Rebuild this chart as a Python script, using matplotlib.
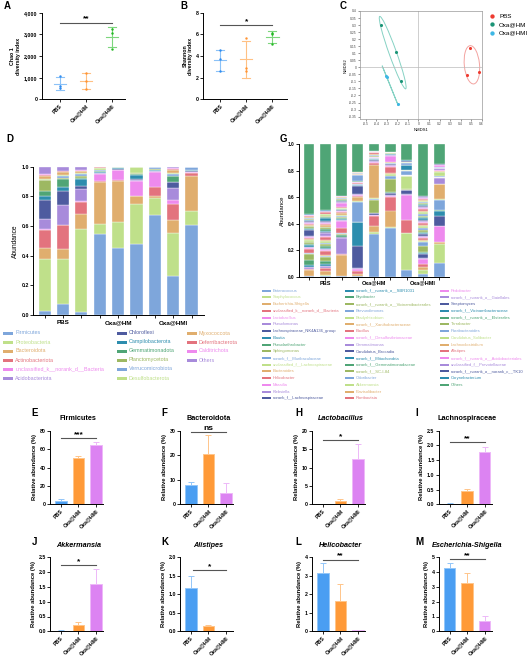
import matplotlib.pyplot as plt
import numpy as np
from matplotlib.patches import Ellipse, Rectangle

plt.rcParams['font.family'] = ['Liberation Sans', 'DejaVu Sans']
plt.rcParams['axes.linewidth'] = 0.7

# ---------------- data ----------------
groups = ['PBS', 'Oxa@HM', 'Oxa@HMI']

# A / B alpha diversity (three mice per group)
chao1_pbs = [1060, 615, 510]
chao1_hm = [1200, 830, 480]
chao1_hmi = [3230, 3060, 2340]
shannon_pbs = [4.52, 3.75, 2.58]
shannon_hm = [5.66, 2.86, 2.60]
shannon_hmi = [6.10, 6.07, 5.08]

# C NMDS scores
nmds_pbs_x = [0.487, 0.572, 0.462]
nmds_pbs_y = [0.140, -0.031, -0.055]
nmds_hm_x = [-0.356, -0.214, -0.164]
nmds_hm_y = [0.302, 0.111, -0.100]
nmds_hmi_x = [-0.305, -0.300, -0.198]
nmds_hmi_y = [-0.064, -0.070, -0.260]

# D phylum composition, one list per sample
phyla = ['Firmicutes', 'Proteobacteria', 'Bacteroidota', 'Actinobacteriota',
         'unclassified_k__norank_d__Bacteria', 'Acidobacteriota',
         'Chloroflexi', 'Campilobacterota', 'Gemmatimonadota', 'Planctomycetota',
         'Verrucomicrobiota', 'Desulfobacterota', 'Myxococcota', 'Deferribacterota',
         'Calditrichota', 'Others']
phylum_pbs1 = [0.030, 0.350, 0.070, 0.120, 0.008, 0.070, 0.130, 0.025, 0.035, 0.070, 0.005, 0.005, 0.020, 0.003, 0.012, 0.047]
phylum_pbs2 = [0.075, 0.305, 0.065, 0.160, 0.005, 0.135, 0.090, 0.025, 0.055, 0.012, 0.013, 0.005, 0.020, 0.003, 0.005, 0.027]
phylum_pbs3 = [0.020, 0.560, 0.100, 0.080, 0.010, 0.080, 0.020, 0.045, 0.010, 0.010, 0.015, 0.005, 0.015, 0.003, 0.005, 0.022]
phylum_hm1 = [0.545, 0.070, 0.280, 0.010, 0.045, 0.005, 0.005, 0.005, 0.005, 0.002, 0.003, 0.015, 0.003, 0.003, 0.002, 0.002]
phylum_hm2 = [0.455, 0.170, 0.280, 0.005, 0.065, 0.003, 0.005, 0.010, 0.003, 0.001, 0.001, 0.001, 0.001, 0.000, 0.000, 0.000]
phylum_hm3 = [0.480, 0.270, 0.050, 0.005, 0.100, 0.005, 0.005, 0.030, 0.005, 0.005, 0.000, 0.045, 0.000, 0.000, 0.000, 0.000]
phylum_hmi1 = [0.675, 0.115, 0.010, 0.065, 0.100, 0.005, 0.000, 0.005, 0.005, 0.005, 0.015, 0.000, 0.000, 0.000, 0.000, 0.000]
phylum_hmi2 = [0.265, 0.290, 0.085, 0.110, 0.025, 0.080, 0.040, 0.005, 0.035, 0.005, 0.010, 0.005, 0.020, 0.010, 0.005, 0.010]
phylum_hmi3 = [0.610, 0.090, 0.240, 0.020, 0.003, 0.002, 0.005, 0.005, 0.000, 0.000, 0.020, 0.000, 0.005, 0.000, 0.000, 0.000]

# G genus composition, one list per sample
genera = ['Enterococcus', 'Staphylococcus', 'Escherichia-Shigella',
          'unclassified_k__norank_d__Bacteria', 'Lactobacillus', 'Pseudomonas',
          'Lachnospiraceae_NK4A136_group', 'Blautia', 'Pseudarthrobacter', 'Sphingomonas',
          'norank_f__Muribaculaceae', 'unclassified_f__Lachnospiraceae', 'Bacteroides',
          'Helicobacter', 'Massilia', 'Klebsiella', 'norank_f__Lachnospiraceae',
          'norank_f__norank_o__SBR1031', 'Bryobacter', 'norank_f__norank_o__Vicinamibacterales',
          'Brevundimonas', 'Bradyrhizobium', 'norank_f__Xanthobacteraceae', 'Bacillus',
          'norank_f__Desulfovibrionaceae', 'Gemmatimonas', 'Candidatus_Brocadia',
          'norank_f__Mitochondria', 'norank_f__Gemmatimonadaceae', 'norank_f__SC-I-84',
          'Odoribacter', 'Akkermansia', 'Flavisolibacter', 'Romboutsia',
          'Pedobacter', 'norank_f__norank_o__Gaiellales', 'Streptomyces',
          'norank_f__Vicinamibacteraceae', 'norank_f__norank_o__Elsterales', 'Terrabacter',
          'Parabacteroides', 'Candidatus_Solibacter', 'Lachnoclostridium', 'Alistipes',
          'norank_f__norank_o__Acidobacteriales', 'unclassified_f__Prevotellaceae',
          'norank_f__norank_o__norank_c__TK10', 'Corynebacterium', 'Others']
genus_pbs1 = [0.003, 0.005, 0.040, 0.010, 0.003, 0.010, 0.005, 0.010, 0.040, 0.045,
              0.005, 0.003, 0.003, 0.025, 0.010, 0.005, 0.003, 0.012, 0.012, 0.010,
              0.005, 0.010, 0.010, 0.010, 0.005, 0.010, 0.045, 0.005, 0.012, 0.010,
              0.003, 0.001, 0.008, 0.004, 0.006, 0.008, 0.006, 0.008, 0.006, 0.006,
              0.003, 0.006, 0.003, 0.012, 0.004, 0.002, 0.002, 0.001, 0.530]
genus_pbs2 = [0.003, 0.010, 0.030, 0.020, 0.005, 0.010, 0.005, 0.010, 0.025, 0.030,
              0.005, 0.005, 0.005, 0.030, 0.008, 0.005, 0.003, 0.010, 0.015, 0.015,
              0.005, 0.012, 0.012, 0.022, 0.006, 0.025, 0.010, 0.006, 0.015, 0.010,
              0.003, 0.001, 0.015, 0.005, 0.006, 0.010, 0.010, 0.018, 0.010, 0.008,
              0.004, 0.008, 0.004, 0.012, 0.005, 0.004, 0.003, 0.002, 0.500]
genus_pbs3 = [0.002, 0.003, 0.160, 0.003, 0.007, 0.120, 0.004, 0.004, 0.012, 0.010,
              0.002, 0.002, 0.002, 0.040, 0.050, 0.006, 0.003, 0.006, 0.008, 0.008,
              0.006, 0.010, 0.012, 0.010, 0.004, 0.004, 0.003, 0.004, 0.005, 0.003,
              0.002, 0.001, 0.004, 0.003, 0.035, 0.006, 0.004, 0.006, 0.008, 0.006,
              0.003, 0.005, 0.003, 0.006, 0.002, 0.001, 0.001, 0.001, 0.390]
genus_hm1 = [0.003, 0.003, 0.015, 0.025, 0.010, 0.010, 0.165, 0.179, 0.002, 0.003,
             0.150, 0.005, 0.030, 0.010, 0.004, 0.008, 0.065, 0.005, 0.002, 0.002,
             0.002, 0.002, 0.003, 0.003, 0.008, 0.002, 0.001, 0.002, 0.002, 0.001,
             0.045, 0.002, 0.004, 0.003, 0.001, 0.002, 0.001, 0.001, 0.001, 0.001,
             0.003, 0.001, 0.002, 0.001, 0.000, 0.000, 0.000, 0.000, 0.210]
genus_hm2 = [0.320, 0.020, 0.040, 0.075, 0.008, 0.005, 0.010, 0.002, 0.003, 0.095,
             0.012, 0.005, 0.250, 0.010, 0.008, 0.010, 0.012, 0.002, 0.002, 0.002,
             0.002, 0.002, 0.002, 0.003, 0.002, 0.002, 0.001, 0.001, 0.001, 0.001,
             0.012, 0.002, 0.002, 0.015, 0.002, 0.001, 0.001, 0.000, 0.000, 0.002,
             0.002, 0.001, 0.002, 0.000, 0.000, 0.000, 0.000, 0.000, 0.050]
genus_hm3 = [0.365, 0.010, 0.125, 0.100, 0.012, 0.008, 0.010, 0.005, 0.005, 0.100,
             0.020, 0.012, 0.015, 0.040, 0.008, 0.006, 0.012, 0.002, 0.002, 0.002,
             0.001, 0.001, 0.002, 0.002, 0.045, 0.008, 0.002, 0.008, 0.002, 0.002,
             0.002, 0.002, 0.004, 0.003, 0.000, 0.000, 0.000, 0.000, 0.000, 0.000,
             0.000, 0.000, 0.002, 0.000, 0.000, 0.000, 0.000, 0.000, 0.055]
genus_hmi1 = [0.050, 0.280, 0.003, 0.097, 0.190, 0.003, 0.030, 0.002, 0.002, 0.002,
              0.004, 0.095, 0.004, 0.002, 0.002, 0.002, 0.002, 0.000, 0.000, 0.000,
              0.000, 0.000, 0.000, 0.000, 0.000, 0.000, 0.000, 0.000, 0.000, 0.000,
              0.030, 0.005, 0.000, 0.000, 0.000, 0.000, 0.000, 0.040, 0.000, 0.000,
              0.010, 0.010, 0.000, 0.000, 0.000, 0.000, 0.008, 0.007, 0.120]
genus_hmi2 = [0.020, 0.030, 0.020, 0.025, 0.040, 0.010, 0.030, 0.005, 0.010, 0.040,
              0.030, 0.010, 0.005, 0.015, 0.010, 0.010, 0.010, 0.008, 0.012, 0.015,
              0.012, 0.015, 0.010, 0.012, 0.008, 0.010, 0.008, 0.010, 0.012, 0.010,
              0.008, 0.015, 0.012, 0.012, 0.008, 0.010, 0.006, 0.008, 0.010, 0.008,
              0.006, 0.010, 0.008, 0.004, 0.004, 0.010, 0.006, 0.003, 0.390]
genus_hmi3 = [0.100, 0.150, 0.010, 0.003, 0.120, 0.002, 0.075, 0.040, 0.002, 0.002,
              0.076, 0.008, 0.110, 0.002, 0.002, 0.040, 0.010, 0.002, 0.000, 0.000,
              0.000, 0.000, 0.000, 0.000, 0.000, 0.000, 0.000, 0.000, 0.000, 0.000,
              0.006, 0.030, 0.005, 0.003, 0.010, 0.010, 0.005, 0.000, 0.000, 0.000,
              0.005, 0.000, 0.000, 0.000, 0.012, 0.006, 0.002, 0.002, 0.150]

# E-M relative abundance (%), mean and SD
firmicutes_mean, firmicutes_sd = [4.0, 50.0, 65.0], [2.2, 3.0, 3.2]
bacteroidota_mean, bacteroidota_sd = [7.9, 20.6, 4.8], [1.1, 7.8, 3.8]
lactobacillus_mean, lactobacillus_sd = [0.1, 1.0, 12.3], [0.05, 0.35, 4.0]
lachnospiraceae_mean, lachnospiraceae_sd = [0.02, 0.46, 1.78], [0.01, 0.07, 0.17]
akkermansia_mean, akkermansia_sd = [0.02, 0.22, 1.60], [0.01, 0.08, 0.49]
alistipes_mean, alistipes_sd = [1.18, 0.13, 0.0], [0.32, 0.05, 0.0]
helicobacter_mean, helicobacter_sd = [3.14, 1.66, 0.05], [0.53, 0.92, 0.03]
escherichia_mean, escherichia_sd = [4.30, 3.25, 0.70], [0.30, 0.70, 0.35]

# ---------------- figure ----------------
W, H = 527, 660
fig = plt.figure(figsize=(W / 100, H / 100), dpi=100)

palette = ['#7EA6DB', '#BFE08A', '#E0AE6E', '#E3737E', '#EE8AEE',
           '#A88BDB', '#4E5B9F', '#2D8DAE', '#4FA576', '#9DB862']
dot_colors = ['#2F8CF0', '#FF9433', '#22B822']
dot_lines = ['#8CC2F7', '#FFC184', '#7DD67D']
bar_fill = ['#4A9EF2', '#FF9A38', '#DC83F2']
bar_edge = ['#93C6F8', '#FFC58A', '#EDB8F8']


def px_axes(left, top, right, bottom):
    return fig.add_axes([left / W, 1 - bottom / H, (right - left) / W, (bottom - top) / H])


def prism(ax, fs=3.8):
    for s in ['top', 'right']:
        ax.spines[s].set_visible(False)
    ax.tick_params(length=2, width=0.6, labelsize=fs, pad=1)


def sig(ax, x0, x1, y, label, fs=6):
    ax.plot([x0, x1], [y, y], color='#555555', lw=0.8, clip_on=False)
    ax.text((x0 + x1) / 2, y, label, ha='center', va='bottom', fontsize=fs,
            fontweight='bold', clip_on=False)


def group_ticks(ax, fs=3.8):
    ax.set_xticks(range(3))
    ax.set_xticklabels(groups, rotation=45, ha='right', rotation_mode='anchor',
                       fontsize=fs, fontweight='bold')


# A / B: dot plots with mean +/- SD
def dot_panel(ax, sets):
    for i, vals in enumerate(sets):
        m = np.mean(vals)
        sd = np.std(vals, ddof=1)
        ax.plot([i - 0.24, i + 0.24], [m, m], color=dot_lines[i], lw=0.8)
        ax.plot([i, i], [m - sd, m + sd], color=dot_lines[i], lw=0.8)
        ax.plot([i - 0.15, i + 0.15], [m + sd, m + sd], color=dot_lines[i], lw=0.8)
        ax.plot([i - 0.15, i + 0.15], [m - sd, m - sd], color=dot_lines[i], lw=0.8)
        ax.scatter([i] * len(vals), vals, s=3, color=dot_colors[i], zorder=3, lw=0)


axA = px_axes(41.7, 12.7, 125, 99.3)
dot_panel(axA, [chao1_pbs, chao1_hm, chao1_hmi])
axA.set_xlim(-0.7, 2.5)
axA.set_ylim(0, 4000)
axA.set_yticks([0, 1000, 2000, 3000, 4000])
axA.set_yticklabels(['0', '1,000', '2,000', '3,000', '4,000'], fontweight='bold')
prism(axA)
group_ticks(axA)
axA.set_ylabel('Chao 1\ndiversity index', fontsize=3.8, fontweight='bold', labelpad=2)
sig(axA, 0, 2, 3540, '**')

axB = px_axes(203.3, 12.7, 286.6, 99.3)
dot_panel(axB, [shannon_pbs, shannon_hm, shannon_hmi])
axB.set_xlim(-0.65, 2.55)
axB.set_ylim(0, 8)
axB.set_yticks([0, 2, 4, 6, 8])
axB.set_yticklabels(['0', '2', '4', '6', '8'], fontweight='bold')
prism(axB)
group_ticks(axB)
axB.set_ylabel('Shannon\ndiversity index', fontsize=3.8, fontweight='bold', labelpad=2)
sig(axB, 0, 2, 6.86, '*')


# C: NMDS
def cov_ellipse(ax, xs, ys, color, n_std=1.28):
    cov = np.cov(xs, ys)
    vals, vecs = np.linalg.eigh(cov)
    order = vals.argsort()[::-1]
    vals, vecs = vals[order], vecs[:, order]
    angle = np.degrees(np.arctan2(vecs[1, 0], vecs[0, 0]))
    w, h = 2 * n_std * np.sqrt(np.maximum(vals, 1e-7))
    ax.add_patch(Ellipse((np.mean(xs), np.mean(ys)), w, h, angle=angle,
                         fill=False, edgecolor=color, lw=0.7))


axC = px_axes(360, 11, 481.7, 119.4)
axC.axhline(0, color='#BBBBBB', lw=0.5)
axC.axvline(0, color='#BBBBBB', lw=0.5)
nmds_sets = [(nmds_pbs_x, nmds_pbs_y), (nmds_hm_x, nmds_hm_y), (nmds_hmi_x, nmds_hmi_y)]
nmds_colors = ['#EE3B30', '#1B9476', '#3DB7E4']
ellipse_colors = ['#F3A3A0', '#86D2C4', '#86D2C4']
for (xs, ys), c, ec, g in zip(nmds_sets, nmds_colors, ellipse_colors, groups):
    cov_ellipse(axC, xs, ys, ec)
    axC.scatter(xs, ys, s=5, color=c, zorder=3, lw=0, label=g)
axC.set_xlim(-0.555, 0.595)
axC.set_ylim(-0.37, 0.4)
cx = np.round(np.arange(-0.5, 0.61, 0.1), 2)
axC.set_xticks(cx)
axC.set_xticklabels(['0' if v == 0 else f'{v:g}' for v in cx])
cy = np.round(np.arange(-0.35, 0.41, 0.05), 2)
axC.set_yticks(cy)
axC.set_yticklabels(['0' if v == 0 else f'{v:g}' for v in cy])
axC.tick_params(length=1.2, width=0.4, labelsize=2.4, pad=1, colors='#444444')
for s in axC.spines.values():
    s.set_color('#999999')
    s.set_linewidth(0.5)
axC.set_xlabel('NMDS1', fontsize=3, labelpad=1)
axC.set_ylabel('NMDS2', fontsize=3, labelpad=1)
axC.legend(loc='upper left', bbox_to_anchor=(1.0, 1.02), frameon=False, fontsize=4.5,
           handletextpad=0.1, borderaxespad=0.3, labelspacing=0.5, markerscale=1.4)


# D / G: stacked composition bars
def stacked(ax, data, names):
    x = np.arange(data.shape[0])
    base = np.zeros(data.shape[0])
    for k in range(len(names)):
        ax.bar(x, data[:, k], bottom=base, width=0.66, color=palette[k % 10],
               edgecolor='white', linewidth=0.25)
        base += data[:, k]
    ax.set_ylim(0, 1.0)
    ax.set_xticks(x)
    ax.set_xticklabels([''] * len(x))
    ax.set_yticks([0, 0.2, 0.4, 0.6, 0.8, 1.0])
    ax.set_yticklabels(['0.0', '0.2', '0.4', '0.6', '0.8', '1.0'], fontweight='bold')


phylum_data = np.array([phylum_pbs1, phylum_pbs2, phylum_pbs3, phylum_hm1, phylum_hm2,
                        phylum_hm3, phylum_hmi1, phylum_hmi2, phylum_hmi3])
axD = px_axes(33, 166.7, 204, 315)
stacked(axD, phylum_data, phyla)
axD.set_xlim(-0.64, 8.68)
prism(axD, 3.8)
axD.set_ylabel('Abundance', fontsize=4.8, labelpad=2)
for gx, g in zip([1, 4, 7], groups):
    axD.text(gx, -0.035, g, transform=axD.get_xaxis_transform(), ha='center', va='top',
             fontsize=4.5, fontweight='bold')

genus_data = np.array([genus_pbs1, genus_pbs2, genus_pbs3, genus_hm1, genus_hm2,
                       genus_hm3, genus_hmi1, genus_hmi2, genus_hmi3])
axG = px_axes(299, 144.3, 449, 276.7)
stacked(axG, genus_data, genera)
axG.set_xlim(-0.61, 8.6)
prism(axG, 3.4)
axG.set_ylabel('Abundance', fontsize=4.3, labelpad=2)
for gx, g in zip([1, 4, 7], groups):
    axG.text(gx, -0.03, g, transform=axG.get_xaxis_transform(), ha='center', va='top',
             fontsize=4, fontweight='bold')

# E-M: bar charts with mean + SD
panels = [
    ('E', 'Firmicutes', False, firmicutes_mean, firmicutes_sd, [0, 20, 40, 60, 80], '***', 72, 0),
    ('F', 'Bacteroidota', False, bacteroidota_mean, bacteroidota_sd, [0, 10, 20, 30], 'ns', 29.4, 0),
    ('H', 'Lactobacillus', True, lactobacillus_mean, lactobacillus_sd, [0, 5, 10, 15, 20], '*', 17.5, 0),
    ('I', 'Lachnospiraceae', False, lachnospiraceae_mean, lachnospiraceae_sd,
     [0.0, 0.5, 1.0, 1.5, 2.0, 2.5], '**', 2.11, 0),
    ('J', 'Akkermansia', True, akkermansia_mean, akkermansia_sd,
     [0.0, 0.5, 1.0, 1.5, 2.0, 2.5], '*', 2.24, 0),
    ('K', 'Alistipes', True, alistipes_mean, alistipes_sd, [0.0, 0.5, 1.0, 1.5, 2.0], '*', 1.66, 0.1),
    ('L', 'Helicobacter', True, helicobacter_mean, helicobacter_sd, [0, 1, 2, 3, 4], '**', 3.87, 0),
    ('M', 'Escherichia-Shigella', True, escherichia_mean, escherichia_sd,
     [0, 1, 2, 3, 4, 5], '**', 4.88, 0),
]
lefts = [50, 180, 312, 438.7]
letter_x = [31.7, 161.7, 295.3, 415.3]
rows = [(430.7, 504.3, 413), (557.3, 631.3, 541.7)]

for n, (letter, title, italic, means, sds, yt, star, ys, xs0) in enumerate(panels):
    top, bottom, ly = rows[n // 4]
    ax = px_axes(lefts[n % 4], top, lefts[n % 4] + 53, bottom)
    for i in range(3):
        ax.bar(i, means[i], width=0.65, color=bar_fill[i], edgecolor=bar_edge[i], linewidth=0.7)
        if sds[i] > 0:
            ax.errorbar(i, means[i], yerr=[[0], [sds[i]]], color=bar_edge[i], lw=0.7,
                        capsize=2, capthick=0.7)
    ax.set_xlim(-0.62, 2.4)
    ax.set_ylim(0, yt[-1])
    ax.set_yticks(yt)
    if isinstance(yt[1], float):
        ax.set_yticklabels([f'{v:.1f}' for v in yt], fontweight='bold')
    else:
        ax.set_yticklabels([str(v) for v in yt], fontweight='bold')
    prism(ax, 3.8)
    group_ticks(ax)
    ax.set_ylabel('Relative abundance (%)', fontsize=4.2, fontweight='bold', labelpad=2)
    ax.text(1, 1.16, title, transform=ax.get_xaxis_transform(), ha='center', va='center',
            fontsize=5.2, fontweight='bold', style='italic' if italic else 'normal')
    sig(ax, xs0, 2, ys, star)
    fig.text(letter_x[n % 4] / W, 1 - ly / H, letter, fontsize=7, fontweight='bold',
             ha='left', va='center')

# panel letters for the upper part
for letter, lx, ly in [('A', 4, 6), ('B', 180, 6), ('C', 340, 6), ('D', 6, 139), ('G', 280, 139)]:
    fig.text(lx / W, 1 - ly / H, letter, fontsize=7, fontweight='bold', ha='left', va='center')

# legends for D and G drawn in pixel space
ann = fig.add_axes([0, 0, 1, 1])
ann.set_xlim(0, W)
ann.set_ylim(H, 0)
ann.axis('off')
ann.patch.set_alpha(0)

for k, name in enumerate(phyla):
    col, row = divmod(k, 6)
    x0 = [3.3, 116.7, 186.7][col]
    y0 = 333 + row * 9
    ann.add_patch(Rectangle((x0, y0 - 1.5), 10, 3, color=palette[k % 10], lw=0))
    ann.text(x0 + 12, y0, name, fontsize=3.9, color=palette[k % 10], va='center')

for k, name in enumerate(genera):
    col, row = divmod(k, 17)
    x0 = [262, 345, 440][col]
    y0 = 290.7 + row * 6.73
    ann.add_patch(Rectangle((x0, y0 - 1), 9, 2, color=palette[k % 10], lw=0))
    ann.text(x0 + 11, y0, name, fontsize=3.0, color=palette[k % 10], va='center')

fig.savefig('out.png', dpi=100)
